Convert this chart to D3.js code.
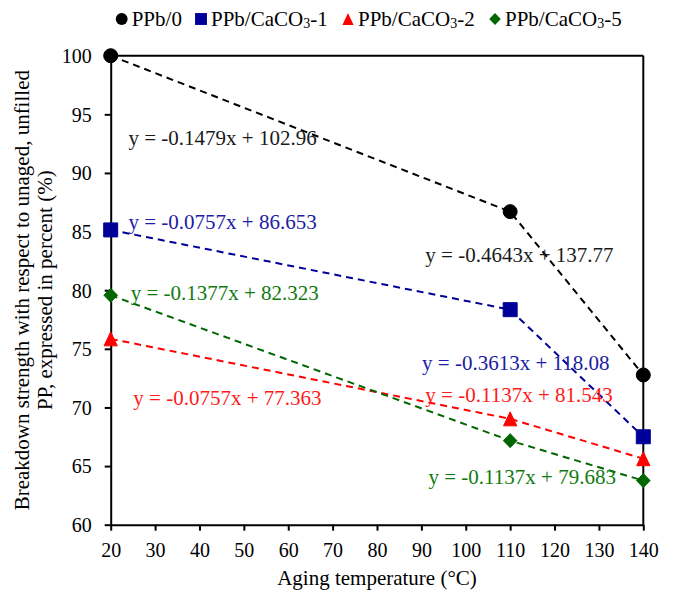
<!DOCTYPE html>
<meta charset="utf-8">
<script src="https://d3js.org/d3.v7.min.js"></script>
<style>
  body { margin: 0; background: #fff; }
  svg, svg text { font-family: "Liberation Serif", Tinos, "Times New Roman", Times, "DejaVu Serif", serif; }
</style>
<div id="chart"></div>
<script>

// data
const temps = [20, 110, 140];
const ppb0 = [100, 86.70, 72.77];
const ppbCaCO3_1 = [85.14, 78.34, 67.50];
const ppbCaCO3_2 = [75.85, 69.03, 65.63];
const ppbCaCO3_5 = [79.57, 67.17, 63.76];

const xTicks = [20, 30, 40, 50, 60, 70, 80, 90, 100, 110, 120, 130, 140];
const yTicks = [60, 65, 70, 75, 80, 85, 90, 95, 100];

// trend line equations, anchored in data units (temperature, percent)
const eqTexts = [
  "y = -0.1479x + 102.96", "y = -0.4643x + 137.77",
  "y = -0.0757x + 86.653", "y = -0.3613x + 118.08",
  "y = -0.0757x + 77.363", "y = -0.1137x + 81.543",
  "y = -0.1377x + 82.323", "y = -0.1137x + 79.683"
];
const eqSeries = [0, 0, 1, 1, 2, 2, 3, 3];
const eqAtX = [24.0, 90.9, 24.0, 90.15, 25.1, 90.9, 24.5, 91.6];
const eqAtY = [92.95, 83.0, 85.82, 73.77, 70.78, 71.06, 79.74, 64.09];

const series = [
  {name: "PPb/", sub: "", tail: "0", values: ppb0, color: "#000000", text: "#1a1a1a", shape: "circle"},
  {name: "PPb/CaCO", sub: "3", tail: "-1", values: ppbCaCO3_1, color: "#000099", text: "#1c1ca6", shape: "square"},
  {name: "PPb/CaCO", sub: "3", tail: "-2", values: ppbCaCO3_2, color: "#ff0000", text: "#ff1a1a", shape: "triangle"},
  {name: "PPb/CaCO", sub: "3", tail: "-5", values: ppbCaCO3_5, color: "#006600", text: "#117a11", shape: "diamond"}
];

const FONT = "'Liberation Serif', Tinos, 'Times New Roman', Times, 'DejaVu Serif', serif";

const W = 673, H = 590;
const margin = {top: 55.7, right: 29.7, bottom: 65.3, left: 110.7},
    width = W - margin.left - margin.right,
    height = H - margin.top - margin.bottom;

const svg = d3.select("#chart")
  .append("svg")
    .attr("width", W)
    .attr("height", H)
    .attr("font-family", FONT);

const g = svg.append("g")
    .attr("transform", `translate(${margin.left},${margin.top})`);

const x = d3.scaleLinear().domain([20, 140]).range([0, width]);
const y = d3.scaleLinear().domain([60, 100]).range([height, 0]);

// marker shapes
const triangle = {draw(ctx) { ctx.moveTo(0, -7); ctx.lineTo(6.6, 7); ctx.lineTo(-6.6, 7); ctx.closePath(); }};
const diamond = {draw(ctx) { ctx.moveTo(0, -7); ctx.lineTo(6.8, 0); ctx.lineTo(0, 7); ctx.lineTo(-6.8, 0); ctx.closePath(); }};
function markerPath(shape) {
  if (shape === "circle") return d3.symbol().type(d3.symbolCircle).size(Math.PI * 49)();
  if (shape === "square") return d3.symbol().type(d3.symbolSquare).size(196)();
  if (shape === "triangle") return d3.symbol().type(triangle)();
  return d3.symbol().type(diamond)();
}

// box: top and right borders
g.append("line")
  .attr("x1", 0).attr("x2", width).attr("y1", 0).attr("y2", 0)
  .attr("stroke", "#000").attr("stroke-width", 2);
g.append("line")
  .attr("x1", width).attr("x2", width).attr("y1", 0).attr("y2", height)
  .attr("stroke", "#000").attr("stroke-width", 2);

// axes
const xAxis = g.append("g")
  .attr("transform", `translate(0,${height})`)
  .call(d3.axisBottom(x).tickValues(xTicks).tickSize(6).tickSizeOuter(0).tickPadding(12));
const yAxis = g.append("g")
  .call(d3.axisLeft(y).tickValues(yTicks).tickSize(6).tickSizeOuter(0).tickPadding(13));

[xAxis, yAxis].forEach(a => {
  a.attr("font-family", FONT).attr("font-size", 20);
  a.select(".domain").attr("stroke", "#000").attr("stroke-width", 2);
  a.selectAll(".tick line").attr("stroke", "#000").attr("stroke-width", 2);
  a.selectAll(".tick text")
    .attr("fill", "#000")
    .style("font-family", FONT)
    .style("font-size", "20px");
});
yAxis.selectAll(".tick text").attr("dy", "0.34em");

// dashed connecting lines
const line = d3.line()
  .x((d, i) => x(temps[i]))
  .y(d => y(d));

series.forEach(s => {
  g.append("path")
    .datum(s.values)
    .attr("d", line)
    .attr("fill", "none")
    .attr("stroke", s.color)
    .attr("stroke-width", 2)
    .attr("stroke-dasharray", "7,5");
});

// equation labels
g.selectAll(".eq")
  .data(eqTexts)
  .enter()
  .append("text")
    .attr("class", "eq")
    .attr("x", (d, i) => x(eqAtX[i]))
    .attr("y", (d, i) => y(eqAtY[i]))
    .attr("dy", "0.34em")
    .attr("fill", (d, i) => series[eqSeries[i]].text)
    .style("font-family", FONT)
    .style("font-size", "21px")
    .text(d => d);

// markers
series.forEach(s => {
  g.selectAll(null)
    .data(s.values)
    .enter()
    .append("path")
      .attr("d", markerPath(s.shape))
      .attr("transform", (d, i) => `translate(${x(temps[i])},${y(d)})`)
      .attr("fill", s.color)
      .attr("stroke", s.color)
      .attr("stroke-width", 1);
});

// axis titles
svg.append("text")
  .attr("x", margin.left + width / 2)
  .attr("y", 585)
  .attr("text-anchor", "middle")
  .style("font-family", FONT)
  .style("font-size", "21px")
  .text("Aging temperature (°C)");

const yTitle = svg.append("text")
  .attr("transform", `translate(0,${margin.top + height / 2}) rotate(-90)`)
  .attr("text-anchor", "middle")
  .style("font-family", FONT)
  .style("font-size", "21px");
yTitle.append("tspan").attr("x", 0).attr("y", 29)
  .text("Breakdown strength with respect to unaged, unfilled");
yTitle.append("tspan").attr("x", 0).attr("y", 52)
  .text("PP, expressed in percent (%)");

// legend, markers at fixed slots across the top
const legendX = [121.7, 201, 348, 495];
const legend = svg.append("g").attr("transform", "translate(0,19)");
series.forEach((s, i) => {
  const lx = legendX[i];
  legend.append("path")
    .attr("d", markerPath(s.shape))
    .attr("transform", `translate(${lx},0) scale(0.85)`)
    .attr("fill", s.color);
  const t = legend.append("text")
    .attr("x", lx + 10)
    .attr("y", 7)
    .style("font-family", FONT)
    .style("font-size", "21px")
    .attr("fill", "#000");
  t.append("tspan").text(s.name);
  if (s.sub) {
    t.append("tspan").attr("dy", 2).style("font-size", "14px").text(s.sub);
    t.append("tspan").attr("dy", -2).text(s.tail);
  } else {
    t.append("tspan").text(s.tail);
  }
});

</script>
